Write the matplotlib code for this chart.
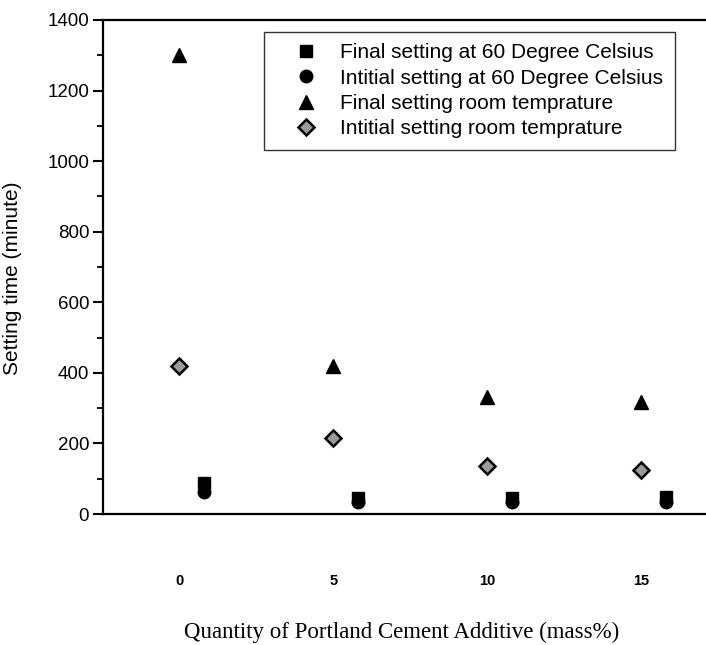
import matplotlib.pyplot as plt
from matplotlib.ticker import MultipleLocator
import numpy as np

# data
additive = [0, 5, 10, 15]
final_60 = [88, 45, 45, 48]
initial_60 = [62, 34, 34, 34]
final_room = [1300, 420, 331, 317]
initial_room = [420, 215, 136, 124]

labels = [
    'Final setting at 60 Degree Celsius',
    'Intitial setting at 60 Degree Celsius',
    'Final setting room temprature',
    'Intitial setting room temprature',
]

plt.rcParams['font.family'] = ['Liberation Sans', 'DejaVu Sans']

fig = plt.figure(figsize=(7.06, 6.45), dpi=100)
ax = fig.add_axes([0.146, 0.203, 0.854, 0.766])

x = np.array(additive, dtype=float)
shift = 0.8  # 60 C points are drawn slightly to the right in the original

ax.plot(x + shift, final_60, 's', color='black', ms=8, ls='none', label=labels[0])
ax.plot(x + shift, initial_60, 'o', color='black', ms=9, ls='none', label=labels[1])
ax.plot(x, final_room, '^', color='black', ms=10, ls='none', label=labels[2])
ax.plot(x, initial_room, 'D', mfc='#9a9a9a', mec='black', mew=1.8, ms=8,
        ls='none', label=labels[3])

ax.set_xlim(-2.47, 17.1)
ax.set_ylim(0, 1400)

# axes look
for side in ['left', 'top', 'bottom']:
    ax.spines[side].set_linewidth(1.6)
ax.spines['right'].set_visible(False)

ax.yaxis.set_major_locator(MultipleLocator(200))
ax.yaxis.set_minor_locator(MultipleLocator(100))
ax.tick_params(axis='y', which='major', direction='out', length=7, width=1.5,
               labelsize=13.5, pad=3)
ax.tick_params(axis='y', which='minor', direction='out', length=4, width=1.3)
ax.set_xticks([])

# x labels sit well below the axis, no tick marks
for v in additive:
    ax.text(v, -0.136, str(v), transform=ax.get_xaxis_transform(),
            ha='center', va='center', fontsize=10.5, fontweight='bold')

ax.set_ylabel('Setting time (minute)', fontsize=15)
ax.yaxis.set_label_coords(-0.134, 0.478)
fig.text(0.569, 0.011, 'Quantity of Portland Cement Additive (mass%)',
         ha='center', va='baseline', fontsize=16.5, family='Liberation Serif')

leg = ax.legend(loc='upper left', bbox_to_anchor=(0.267, 0.976), fontsize=15,
                frameon=True, fancybox=False, edgecolor='black',
                handletextpad=0.2, borderpad=0.55, labelspacing=0.3,
                handlelength=2.9, borderaxespad=0)
leg.get_frame().set_linewidth(1.0)

fig.savefig('out.png', dpi=100)
